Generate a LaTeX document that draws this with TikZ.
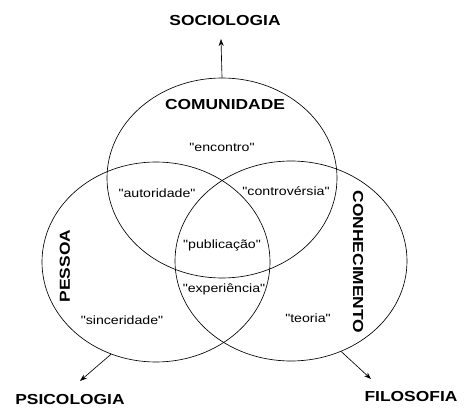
\documentclass[tikz,border=0pt]{standalone}
\usepackage{fontspec}
\setmainfont{Liberation Sans}
\newfontfamily\widebold[FakeStretch=1.2]{Liberation Sans Bold}
\newfontfamily\widereg[FakeStretch=1.18]{Liberation Sans}
\usetikzlibrary{arrows.meta,shapes.geometric}
\begin{document}
\begin{tikzpicture}[x=1pt,y=-1pt,
  circ/.style={draw,line width=0.65pt,ellipse,inner sep=0pt,minimum height=200pt},
  big/.style={font=\widebold\fontsize{14.5}{16}\selectfont,inner sep=0pt},
  small/.style={font=\widereg\fontsize{12}{14}\selectfont,inner sep=0pt},
  arr/.style={-{Stealth[length=7pt,width=5pt]},line width=0.65pt}]
\useasboundingbox (0,0) rectangle (466,409);
\node[circ,minimum width=230pt] (top) at (222,178) {};
\node[circ,minimum width=228pt] (left) at (156,262) {};
\node[circ,minimum width=232pt] (right) at (291,261) {};
\node[big] (soc) at (225,21) {SOCIOLOGIA};
\node[big] (psi) at (70,400) {PSICOLOGIA};
\node[big] (fil) at (411,397) {FILOSOFIA};
\node[big] (com) at (225,105) {COMUNIDADE};
\node[big,rotate=90] (pes) at (65,266) {PESSOA};
\node[big,rotate=-90] (con) at (358,262) {CONHECIMENTO};
\node[small] (enc) at (222,147) {"encontro"};
\node[small] (aut) at (157,193) {"autoridade"};
\node[small] (ctr) at (286,191) {"controvérsia"};
\node[small] (pub) at (222,245) {"publicação"};
\node[small] (exp) at (224,289) {"experiência"};
\node[small] (sin) at (122,320) {"sinceridade"};
\node[small] (teo) at (308,318) {"teoria"};
\coordinate (st) at (221,39);
\coordinate (pt) at (80,381);
\coordinate (ft) at (371,379);
\draw[arr] (top.north) -- (st);
\draw[arr] (left.-116) -- (pt);
\draw[arr] (right.-61) -- (ft);
\end{tikzpicture}
\end{document}
